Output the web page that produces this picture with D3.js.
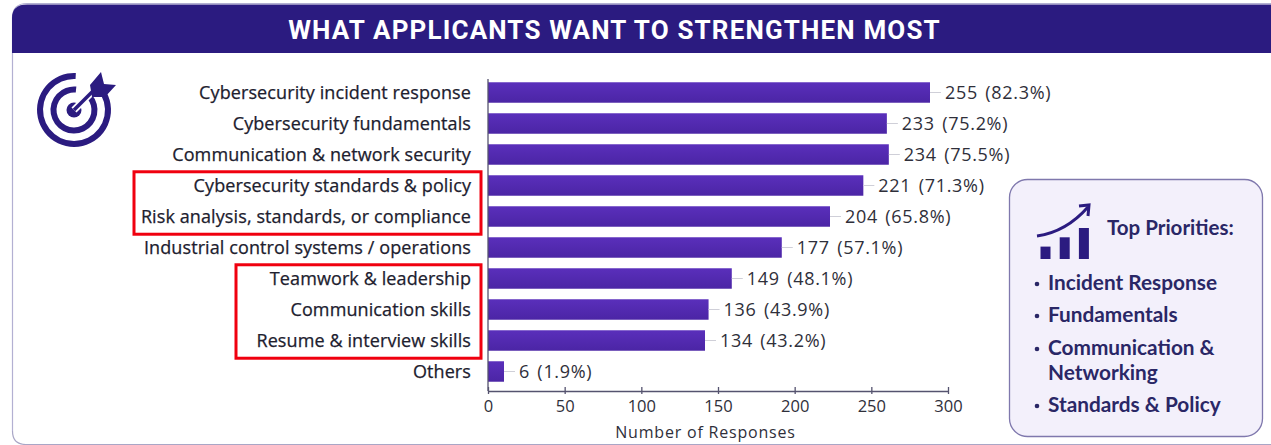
<!DOCTYPE html>
<html><head><meta charset="utf-8">
<style>
html,body{margin:0;padding:0;background:#fff}
svg{display:block}
text{font-family:"Open Sans",Lato,sans-serif}
</style>
<script src="https://cdn.jsdelivr.net/npm/d3@7"></script>
</head><body><svg id="c" width="1271" height="445"></svg>
<script>
const categories=["Cybersecurity incident response","Cybersecurity fundamentals","Communication & network security","Cybersecurity standards & policy","Risk analysis, standards, or compliance","Industrial control systems / operations","Teamwork & leadership","Communication skills","Resume & interview skills","Others"];
const responses=[255,233,234,221,204,177,149,136,134,6];
const shares=["82.3%","75.2%","75.5%","71.3%","65.8%","57.1%","48.1%","43.9%","43.2%","1.9%"];
const axisTicks=[0,50,100,150,200,250,300];
const priorities=[["Incident Response"],["Fundamentals"],["Communication &","Networking"],["Standards & Policy"]];
const titleText="WHAT APPLICANTS WANT TO STRENGTHEN MOST";
const axisTitle="Number of Responses";
const panelTitle="Top Priorities:";
const highlightGroups=[["Cybersecurity standards & policy","Risk analysis, standards, or compliance"],["Teamwork & leadership","Resume & interview skills"]];
const iconBars=[2,3.5,5];

const svg=d3.select("#c");
const navy="#2b1b80", ink="#20202e", panelInk="#2a2766";

// Card outline and header band
svg.append("path").attr("d","M12.5,431 V18 Q12.5,3.5 27,3.5 H1271").attr("fill","none").attr("stroke","#b3b0d2").attr("stroke-width",1.2);
svg.append("path").attr("d","M12.5,431 Q12.5,444.5 26,444.5 H1271").attr("fill","none").attr("stroke","#a9a6c6").attr("stroke-width",1.2);
svg.append("path").attr("d","M12,53 V18 Q12,4.5 27,4.5 H1271 V53 Z").attr("fill",navy);
svg.append("text").attr("x",614.5).attr("y",39).attr("text-anchor","middle").attr("fill","#fff")
  .style("font-family","Roboto,sans-serif").attr("font-weight",700).attr("font-size",26).attr("letter-spacing",1.15).text(titleText);

// The axis and the bars keep separate horizontal scales: the bars run longer per response than the ticks do
const axisX=d3.scaleLinear().domain([0,300]).range([488,948]);
const barX=d3.scaleLinear().domain([0,6,134,204,255]).range([488,504,705,830,930]);
const y=d3.scaleBand().domain(categories).range([77,387]).paddingInner(0.34).paddingOuter(0.17);

const defs=svg.append("defs");
const grad=defs.append("linearGradient").attr("id","barFill").attr("x1",0).attr("x2",0).attr("y1",0).attr("y2",1);
grad.append("stop").attr("offset",0).attr("stop-color","#5a2fbb");
grad.append("stop").attr("offset",1).attr("stop-color","#4b25a5");

// Bars, leader ticks, value labels and category labels
const rows=svg.append("g").selectAll("g").data(categories).join("g");
rows.append("rect").attr("x",barX(0)).attr("y",c=>y(c)).attr("height",y.bandwidth())
  .attr("width",(c,i)=>barX(responses[i])-barX(0)).attr("fill","url(#barFill)");
rows.append("line").attr("x1",(c,i)=>barX(responses[i])).attr("x2",(c,i)=>barX(responses[i])+11)
  .attr("y1",c=>y(c)+y.bandwidth()/2).attr("y2",c=>y(c)+y.bandwidth()/2).attr("stroke","#cfcfd8").attr("stroke-width",1);
rows.append("text").attr("x",(c,i)=>barX(responses[i])+15).attr("y",c=>y(c)+y.bandwidth()/2+6)
  .attr("font-size",18).attr("letter-spacing",0.7).attr("word-spacing",2).attr("fill","#2f2f3a").text((c,i)=>`${responses[i]} (${shares[i]})`);
rows.append("text").attr("x",471).attr("y",c=>y(c)+y.bandwidth()/2+6).attr("text-anchor","end")
  .attr("font-size",18).attr("letter-spacing",0.1).attr("fill",ink).attr("stroke",ink).attr("stroke-width",0.25).text(c=>c);

// Category spine and value axis
svg.append("line").attr("x1",488).attr("x2",488).attr("y1",79).attr("y2",391).attr("stroke","#55536f").attr("stroke-width",1.3);
const axis=d3.axisBottom(axisX).tickValues(axisTicks).tickSize(0).tickPadding(9);
const ag=svg.append("g").attr("transform","translate(0,391)").call(axis);
ag.select(".domain").attr("stroke","#55536f").attr("stroke-width",1.5);
ag.selectAll(".tick text").attr("font-size",16.5).attr("fill","#2f2f3a").style("font-family","'Open Sans',sans-serif");
ag.selectAll(".tick").append("line").attr("y1",-4).attr("y2",3).attr("stroke","#55536f").attr("stroke-width",1.3);
svg.append("text").attr("x",705.5).attr("y",438).attr("text-anchor","middle").attr("font-size",16).attr("letter-spacing",0.8).attr("fill","#2f2f3a").text(axisTitle);

// Red highlight boxes around label groups
const boxLeft=[134,236];
highlightGroups.forEach((g,i)=>{
  const top=y(g[0])-3.5, bottom=y(g[1])+y.bandwidth()+7.5;
  svg.append("rect").attr("x",boxLeft[i]).attr("y",top).attr("width",481-boxLeft[i]).attr("height",bottom-top)
    .attr("fill","none").attr("stroke","#f0000f").attr("stroke-width",3);
});

// Target icon with arrow
const t=svg.append("g").attr("transform","translate(74,110)");
const arc=d3.arc();
t.append("path").attr("d",arc({innerRadius:31,outerRadius:37,startAngle:0.85,endAngle:2*Math.PI+0.05})).attr("fill",navy);
t.append("path").attr("d",arc({innerRadius:17.5,outerRadius:23.5,startAngle:0.85,endAngle:2*Math.PI+0.1})).attr("fill",navy);
t.append("circle").attr("r",7.5).attr("fill",navy);
t.append("line").attr("x1",0).attr("y1",0).attr("x2",24).attr("y2",-24).attr("stroke","#fff").attr("stroke-width",7);
t.append("line").attr("x1",0).attr("y1",0).attr("x2",24).attr("y2",-24).attr("stroke",navy).attr("stroke-width",3.6);
t.append("path").attr("d","M16,-25 L27,-38 L30,-26 L42,-25 L31,-13 L18,-13 Z").attr("fill",navy);

// Top priorities panel
svg.append("rect").attr("x",1009.5).attr("y",179.5).attr("width",253).attr("height",257).attr("rx",18)
  .attr("fill","#f3f0fb").attr("stroke","#7f78ad").attr("stroke-width",1.3);
const iconScale=d3.scaleLinear().domain([0,5]).range([0,31]);
const ic=svg.append("g");
ic.selectAll("rect").data(iconBars).join("rect").attr("x",(d,i)=>1040.5+i*19.2).attr("width",10)
  .attr("y",d=>259-iconScale(d)).attr("height",d=>iconScale(d)).attr("fill",navy);
ic.append("path").attr("d","M1037,236 Q1066,232 1088,207").attr("fill","none").attr("stroke",navy).attr("stroke-width",3);
ic.append("path").attr("d","M1079,206 L1089,205 L1088,216").attr("fill","none").attr("stroke",navy).attr("stroke-width",3);
svg.append("text").attr("x",1107).attr("y",235).style("font-family","Lato,sans-serif").attr("font-size",20.5).attr("font-weight",700).attr("fill",panelInk).text(panelTitle);
const listY=[290,322,355,412];
priorities.forEach((lines,i)=>{
  svg.append("circle").attr("cx",1037).attr("cy",listY[i]-6).attr("r",2.3).attr("fill",panelInk);
  lines.forEach((l,j)=>svg.append("text").attr("x",1048).attr("y",listY[i]+j*25).style("font-family","Lato,sans-serif").attr("font-size",20.8).attr("font-weight",700).attr("fill",panelInk).text(l));
});
</script></body></html>
